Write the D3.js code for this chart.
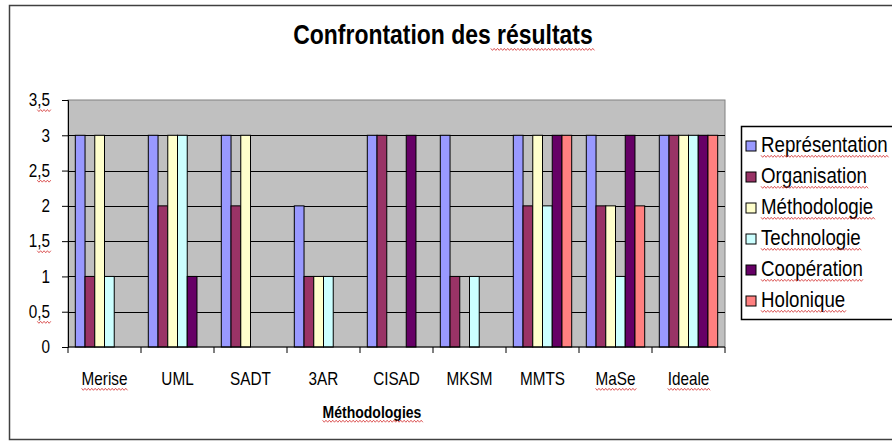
<!doctype html>
<html>
  <head>
    <meta charset="utf-8">
    <title>Confrontation des résultats</title>
    <script src="https://cdnjs.cloudflare.com/ajax/libs/d3/7.8.5/d3.min.js"></script>
    <style>
      body { margin: 0; background: #fff; }
      text { font-family: "Liberation Sans", Arial, sans-serif; fill: #000; }
    </style>
  </head>
  <body>
    <div id="chart"></div>
    <script>

      // data
      const methods = ['Merise', 'UML', 'SADT', '3AR', 'CISAD', 'MKSM', 'MMTS', 'MaSe', 'Ideale'];
      const criteria = ['Représentation', 'Organisation', 'Méthodologie', 'Technologie', 'Coopération', 'Holonique'];
      const representation = [3, 3, 3, 2, 3, 3, 3, 3, 3];
      const organisation   = [1, 2, 2, 1, 3, 1, 2, 2, 3];
      const methodologie   = [3, 3, 3, 1, 0, 0, 3, 2, 3];
      const technologie    = [1, 3, 0, 1, 0, 1, 2, 1, 3];
      const cooperation    = [0, 1, 0, 0, 3, 0, 3, 3, 3];
      const holonique      = [0, 0, 0, 0, 0, 0, 3, 2, 3];
      const yTicks = [0, 0.5, 1, 1.5, 2, 2.5, 3, 3.5];

      const series = [representation, organisation, methodologie, technologie, cooperation, holonique];
      const colors = ['#9999FF', '#993366', '#FFFFCC', '#CCFFFF', '#660066', '#FF8080'];

      // words the spell checker flagged in the original
      const flagged = ['résultats', 'Merise', 'MaSe', 'Ideale', 'Méthodologies'].concat(criteria);

      const W = 892, H = 443;
      const margin = {left: 68, right: 167, top: 100, bottom: 96};
      const narrow = 0.85; // the original font is a condensed Arial

      const svg = d3.select('#chart').append('svg')
        .attr('width', W).attr('height', H);

      // outer frame
      svg.append('rect')
        .attr('x', 9.5).attr('y', 5.5)
        .attr('width', 900).attr('height', 434)
        .attr('fill', '#fff').attr('stroke', '#404040').attr('stroke-width', 1.5);

      const x0 = d3.scaleBand().domain(methods)
        .range([margin.left, W - margin.right])
        .paddingInner(0).paddingOuter(0);
      // gap width 150% -> 0.75 bar on each side of a group
      const x1 = d3.scaleBand().domain(criteria)
        .range([0, x0.bandwidth()])
        .paddingInner(0).paddingOuter(0.75);
      const y = d3.scaleLinear().domain([0, 3.5]).range([H - margin.bottom, margin.top]);

      // plot area
      svg.append('rect')
        .attr('x', margin.left).attr('y', y(3.5))
        .attr('width', W - margin.right - margin.left)
        .attr('height', y(0) - y(3.5))
        .attr('fill', '#C0C0C0').attr('stroke', '#808080');

      // gridlines
      svg.append('g')
        .selectAll('line')
        .data(yTicks.filter(d => d > 0 && d < 3.5))
        .join('line')
        .attr('x1', margin.left).attr('x2', W - margin.right)
        .attr('y1', d => Math.round(y(d)) + 0.5).attr('y2', d => Math.round(y(d)) + 0.5)
        .attr('stroke', '#000').attr('stroke-width', 1);

      // bars
      const groups = svg.append('g')
        .selectAll('g')
        .data(methods)
        .join('g')
        .attr('transform', d => `translate(${x0(d)},0)`);

      groups.selectAll('rect')
        .data((m, i) => criteria.map((c, k) => ({c, v: series[k][i], k})))
        .join('rect')
        .filter(d => d.v > 0)
        .attr('x', d => x1(d.c))
        .attr('y', d => y(d.v))
        .attr('width', x1.bandwidth())
        .attr('height', d => y(0) - y(d.v))
        .attr('fill', d => colors[d.k])
        .attr('stroke', '#000').attr('stroke-width', 1);

      // y axis
      const yAxis = svg.append('g')
        .attr('transform', `translate(${margin.left},0)`)
        .call(d3.axisLeft(y).tickValues(yTicks).tickSize(6).tickPadding(12)
          .tickFormat(d => String(d).replace('.', ',')));
      yAxis.select('.domain').attr('stroke', '#000');
      yAxis.selectAll('text').attr('font-size', 18).attr('font-family', null);

      // x axis
      const xTickPos = methods.map(m => x0(m)).concat([W - margin.right]);
      svg.append('line')
        .attr('x1', margin.left).attr('x2', W - margin.right)
        .attr('y1', y(0)).attr('y2', y(0))
        .attr('stroke', '#000');
      svg.append('g').selectAll('line')
        .data(xTickPos)
        .join('line')
        .attr('x1', d => d).attr('x2', d => d)
        .attr('y1', y(0)).attr('y2', y(0) + 6)
        .attr('stroke', '#000');

      svg.append('g').selectAll('text')
        .data(methods)
        .join('text')
        .attr('x', d => x0(d) + x0.bandwidth() / 2)
        .attr('y', y(0) + 38)
        .attr('text-anchor', 'middle')
        .attr('font-size', 18)
        .text(d => d);

      // titles
      svg.append('text')
        .attr('x', 443).attr('y', 44)
        .attr('text-anchor', 'middle')
        .attr('font-size', 27).attr('font-weight', 'bold')
        .text('Confrontation des résultats');

      svg.append('text')
        .attr('x', 372).attr('y', 418)
        .attr('text-anchor', 'middle')
        .attr('font-size', 16.5).attr('font-weight', 'bold')
        .text('Méthodologies');

      // legend
      const legend = svg.append('g').attr('transform', 'translate(741,126)');
      legend.append('rect')
        .attr('x', 0.5).attr('y', 0.5).attr('width', 200).attr('height', 193)
        .attr('fill', '#fff').attr('stroke', '#000').attr('stroke-width', 1.5);
      const items = legend.selectAll('g.item')
        .data(criteria)
        .join('g')
        .attr('class', 'item')
        .attr('transform', (d, i) => `translate(5,${26 + i * 31})`);
      items.append('rect')
        .attr('x', 0).attr('y', -11).attr('width', 10).attr('height', 10)
        .attr('fill', (d, i) => colors[i]).attr('stroke', '#000');
      items.append('text')
        .attr('x', 15).attr('y', 0)
        .attr('font-size', 22)
        .text(d => d);

      // squeeze every text horizontally around its own anchor
      svg.selectAll('text').each(function() {
        const t = d3.select(this);
        const x = +t.attr('x') || 0;
        t.attr('x', x / narrow).attr('transform', `scale(${narrow},1)`);
      });

      // red wavy spell-check underlines
      function squiggle(x, yy, w) {
        let p = `M${x},${yy}`;
        for (let i = 0; i * 2 < w; i++) p += `l2,${i % 2 ? -2 : 2}`;
        return p;
      }
      svg.selectAll('text').each(function() {
        const t = d3.select(this).text();
        const b = this.getBBox();
        const host = d3.select(this.parentNode);
        let x = null, w = 0;
        if (flagged.includes(t)) {
          x = b.x; w = b.width;
        } else if (t === 'Confrontation des résultats') {
          w = this.getSubStringLength(17, 10);
          x = b.x + b.width - w;
        } else if (t.includes(',')) {
          w = this.getSubStringLength(1, 2);
          x = b.x + b.width - w;
        }
        if (x !== null) {
          host.append('path').attr('d', squiggle(x, b.y + b.height - 1, w))
            .attr('transform', `scale(${narrow},1)`)
            .attr('fill', 'none').attr('stroke', '#d02020').attr('stroke-width', 0.8);
        }
      });

    </script>
  </body>
</html>
